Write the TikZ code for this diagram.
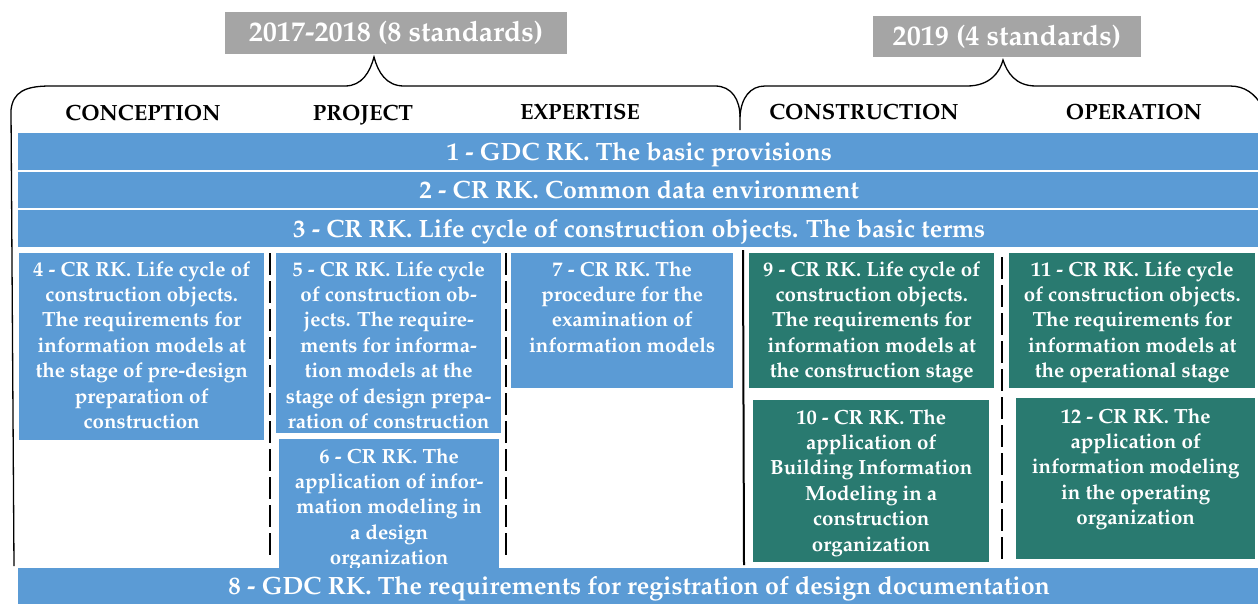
\documentclass[tikz,border=0pt]{standalone}
\usepackage[T1]{fontenc}
\renewcommand{\rmdefault}{ppl}
\usepackage{tikz}
\usetikzlibrary{positioning}
\definecolor{stdblue}{RGB}{91,155,213}
\definecolor{stdgreen}{RGB}{41,122,112}
\definecolor{yeargray}{RGB}{165,165,165}
\newcommand{\stdfont}{\fontsize{20.5}{25.4}\selectfont\bfseries}
\newcommand{\barfont}{\fontsize{25}{30}\selectfont\bfseries}
\newcommand{\phasefont}{\fontsize{22}{26}\selectfont\bfseries}
\newcommand{\yearfont}{\fontsize{28.2}{32}\selectfont\bfseries}
\tikzset{
  stdbar/.style={fill=stdblue, text=white, font=\barfont, anchor=north west, minimum width=1242, minimum height=#1, inner sep=0pt, text height=17.5pt, text depth=0pt},
  bluebox/.style={fill=stdblue, anchor=north west, inner sep=0pt},
  greenbox/.style={fill=stdgreen, anchor=north west, inner sep=0pt},
  boxtext/.style={text=white, font=\stdfont, align=center, inner sep=0pt},
  phase/.style={font=\phasefont, anchor=base, inner sep=0pt},
  yearbox/.style={fill=yeargray, text=white, font=\yearfont, inner sep=0pt},
  sep/.style={line width=1.3pt, dash pattern=on 22pt off 6pt},
  brace/.style={line width=1.3pt}
}
\begin{document}
\begin{tikzpicture}[x=1pt,y=-1pt]
\useasboundingbox (0,0) rectangle (1258,603);
% periods
\node[yearbox, minimum width=342, minimum height=42] (Y1) at (396,33) {2017-2018 (8 standards)};
\node[yearbox, minimum width=268, minimum height=41] (Y2) at (1007,36.5) {2019 (4 standards)};
\draw[brace] (14,566) -- (11,110) .. controls (13,92) and (25,86) .. (50,86) -- (345,86)
  .. controls (362,86) and (370,72) .. (374,57) .. controls (378,72) and (386,86) .. (404,86)
  -- (715,86) .. controls (732,86) and (740,100) .. (740,117) -- (740,130);
\draw[brace] (740,117) .. controls (741,98) and (750,86) .. (765,86) -- (967,86)
  .. controls (990,86) and (1000,72) .. (1003,60) .. controls (1007,72) and (1015,86) .. (1036,86)
  -- (1230,86) .. controls (1245,86) and (1255,94) .. (1262,106);
% phases
\node[phase] (Conc) at (143,120) {CONCEPTION};
\node[phase] (Proj) at (363,120) {PROJECT};
\node[phase] (Expe) at (580,119) {EXPERTISE};
\node[phase] (Cons) at (864,119) {CONSTRUCTION};
\node[phase] (Oper) at (1134,119) {OPERATION};
% common standards
\node[stdbar=37] (B1) at (18,133) {1 - GDC RK. The basic provisions};
\node[stdbar=36] (B2) at (18,172) {2 - CR RK. Common data environment};
\node[stdbar=37] (B3) at (18,210) {3 - CR RK. Life cycle of construction objects. The basic terms};
% 2017-2018
\node[bluebox, minimum width=245, minimum height=187] (S4) at (19,253) {};
\node[boxtext, below=8pt of S4.north] (T4) {4 - CR RK. Life cycle of\\construction objects.\\The requirements for\\information models at\\the stage of pre-design\\preparation of\\construction};
\node[bluebox, minimum width=225, minimum height=180] (S5) at (276,253) {};
\node[boxtext, below=8pt of S5.north] (T5) {5 - CR RK. Life cycle\\of construction ob-\\jects. The require-\\ments for informa-\\tion models at the\\stage of design prepa-\\ration of construction};
\node[bluebox, minimum width=222, minimum height=135] (S7) at (511,253) {};
\node[boxtext, below=8pt of S7.north] (T7) {7 - CR RK. The\\procedure for the\\examination of\\information models};
\node[bluebox, minimum width=220, minimum height=136] (S6) at (279,439) {};
\node[boxtext, below=9pt of S6.north] (T6) {6 - CR RK. The\\application of infor-\\mation modeling in\\a design\\organization};
% 2019
\node[greenbox, minimum width=245, minimum height=135] (S9) at (749,253) {};
\node[boxtext, below=8pt of S9.north] (T9) {9 - CR RK. Life cycle of\\construction objects.\\The requirements for\\information models at\\the construction stage};
\node[greenbox, minimum width=246, minimum height=135] (S11) at (1009,253) {};
\node[boxtext, below=8pt of S11.north] (T11) {11 - CR RK. Life cycle\\of construction objects.\\The requirements for\\information models at\\the operational stage};
\node[greenbox, minimum width=236, minimum height=162] (S10) at (753,400) {};
\node[boxtext, below=9pt of S10.north] (T10) {10 - CR RK. The\\application of\\Building Information\\Modeling in a\\construction\\organization};
\node[greenbox, minimum width=239, minimum height=161] (S12) at (1016,398) {};
\node[boxtext, below=10pt of S12.north] (T12) {12 - CR RK. The\\application of\\information modeling\\in the operating\\organization};
% separators
\draw[sep] (270,253) -- (270,560);
\draw[sep] (506,253) -- (506,558);
\draw[line width=2pt] (743,250) -- (744,565);
\draw[sep] (1002,257) -- (1002,560);
\node[stdbar=36] (B8) at (18,568) {8 - GDC RK. The requirements for registration of design documentation};
\end{tikzpicture}
\end{document}
